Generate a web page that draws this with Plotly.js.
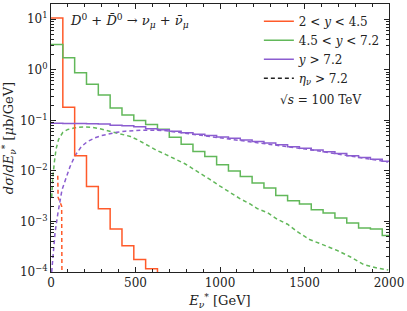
<!DOCTYPE html>
<html>
<head>
<meta charset="utf-8">
<script src="https://cdn.plot.ly/plotly-3.0.1.min.js"></script>
<style>html,body{margin:0;padding:0;background:#fff;}#chart{width:407px;height:311px;}</style>
</head>
<body>
<div id="chart"></div>
<script>
// ---- data ----
const binWidth = 70; // GeV
// solid histograms: one value per 70 GeV bin starting at 0
const orangeVals = [10.6, 0.181, 0.0199, 0.00492, 0.00179, 0.00071, 0.00033, 0.000177, 0.000116, 0.00002];
const greenVals = [3.17, 1.73, 0.873, 0.515, 0.317, 0.176, 0.128, 0.0996, 0.083, 0.0667,
  0.0464, 0.0338, 0.0241, 0.0192, 0.0132, 0.0100, 0.00776, 0.00574, 0.00458, 0.00327,
  0.00257, 0.00221, 0.00171, 0.00147, 0.00117, 0.00093, 0.000744, 0.000711, 0.000525];
const purpleVals = [0.088, 0.087, 0.087, 0.086, 0.085, 0.080, 0.078, 0.075, 0.068, 0.065,
  0.061, 0.057, 0.053, 0.050, 0.047, 0.044, 0.041, 0.038, 0.0355, 0.033,
  0.030, 0.028, 0.026, 0.024, 0.022, 0.020, 0.0185, 0.017, 0.0155];
// dashed curves (eta_nu > 7.2)
const orangeDashE = [40, 42, 63, 65];
const orangeDashV = [0.008, 0.003, 0.002, 0.00005];
const greenDashE = [4, 10, 20, 30, 45, 70, 100, 140, 190, 240, 290, 350, 410, 470, 520, 570, 620, 680, 740, 790,
  840, 890, 940, 1000, 1060, 1120, 1180, 1220, 1280, 1340, 1400, 1460, 1530, 1610, 1690, 1770, 1850, 1930, 1995];
const greenDashV = [0.003, 0.007, 0.015, 0.027, 0.042, 0.058, 0.066, 0.071, 0.074, 0.073, 0.068, 0.060, 0.054, 0.048,
  0.040, 0.032, 0.026, 0.021, 0.0165, 0.014, 0.011, 0.0088, 0.0068, 0.0050, 0.0037, 0.0028, 0.0022, 0.0018,
  0.0015, 0.0011, 0.00088, 0.00062, 0.00044, 0.00034, 0.00027, 0.0002, 0.00014, 0.00012, 0.00011];
const purpleDashE = [4, 14, 24, 40, 65, 89, 112, 142, 179, 215, 260, 300, 340, 390, 440, 490, 540, 600, 665, 735,
  805, 875, 945, 1015, 1085, 1155, 1225, 1295, 1365, 1435, 1505, 1575, 1645, 1715, 1785, 1855, 1925, 1995];
const purpleDashV = [0.0001, 0.0003, 0.0006, 0.0014, 0.0042, 0.0072, 0.012, 0.02, 0.03, 0.038, 0.045, 0.050, 0.054,
  0.058, 0.061, 0.063, 0.064, 0.064, 0.063, 0.059, 0.055, 0.052, 0.048, 0.045, 0.042, 0.039, 0.036, 0.034,
  0.032, 0.029, 0.027, 0.025, 0.023, 0.021, 0.019, 0.018, 0.0165, 0.015];

const legendNames = ['2 &lt; <i>y</i> &lt; 4.5', '4.5 &lt; <i>y</i> &lt; 7.2', '<i>y</i> &gt; 7.2', '<i>η<sub>ν</sub></i> &gt; 7.2'];
const yTickVals = [1e-4, 1e-3, 1e-2, 1e-1, 1, 10];
const yTickText = ['10<sup>−4</sup>', '10<sup>−3</sup>', '10<sup>−2</sup>', '10<sup>−1</sup>', '10<sup>0</sup>', '10<sup>1</sup>'];

// ---- styling ----
const C = {orange: '#ff5a2a', green: '#62b85a', purple: '#8b5dd0'};
const FONT = 'DejaVu Serif';

function steps(vals) {
  const x = [], y = [];
  vals.forEach((v, i) => { x.push(i * binWidth); y.push(v); });
  x.push(vals.length * binWidth); y.push(vals[vals.length - 1]);
  return {x, y};
}
function stepTrace(vals, color, name) {
  const s = steps(vals);
  return {x: s.x, y: s.y, type: 'scatter', mode: 'lines', name: name,
    line: {color: color, width: 1.5, shape: 'hv'}, hoverinfo: 'skip'};
}
function dashTrace(xs, ys, color) {
  return {x: xs, y: ys, type: 'scatter', mode: 'lines', showlegend: false,
    line: {color: color, width: 1.5, dash: '4px,3px'}, hoverinfo: 'skip'};
}

const minorY = [];
for (let e = -4; e <= 1; e++) for (let m = 2; m <= 9; m++) minorY.push(m * Math.pow(10, e));

const traces = [
  dashTrace(orangeDashE, orangeDashV, C.orange),
  dashTrace(greenDashE, greenDashV, C.green),
  dashTrace(purpleDashE, purpleDashV, C.purple),
  stepTrace(orangeVals, C.orange, legendNames[0]),
  stepTrace(greenVals, C.green, legendNames[1]),
  stepTrace(purpleVals, C.purple, legendNames[2]),
  {x: [null], y: [null], type: 'scatter', mode: 'lines', name: legendNames[3],
   line: {color: '#222', width: 1.5, dash: '4px,3px'}}
];

const axisCommon = {
  showline: true, linecolor: '#222', linewidth: 1, mirror: 'allticks',
  ticks: 'inside', ticklen: 5, tickwidth: 1, tickcolor: '#222',
  showgrid: false, zeroline: false,
  tickfont: {family: FONT, size: 12, color: '#222'}
};

const layout = {
  width: 407, height: 311,
  margin: {l: 51, r: 18, t: 4, b: 39},
  paper_bgcolor: '#fff', plot_bgcolor: '#fff',
  font: {family: FONT, color: '#222'},
  showlegend: true,
  legend: {x: 0.615, y: 0.99, xanchor: 'left', yanchor: 'top', bgcolor: 'rgba(0,0,0,0)',
    font: {family: FONT, size: 12, color: '#222'}, traceorder: 'normal'},
  xaxis: Object.assign({}, axisCommon, {
    range: [0, 2000], tickmode: 'linear', tick0: 0, dtick: 500,
    minor: {ticks: 'inside', ticklen: 3, dtick: 100, tickcolor: '#222', showgrid: false},
    title: {text: '<i>E</i><sub><i>ν</i></sub><sup>*</sup> [GeV]', font: {family: FONT, size: 13, color: '#222'}, standoff: 6}
  }),
  yaxis: Object.assign({}, axisCommon, {
    type: 'log', range: [-4, Math.log10(20)],
    tickmode: 'array', tickvals: yTickVals, ticktext: yTickText,
    minor: {ticks: 'inside', ticklen: 3, tickvals: minorY, tickcolor: '#222', showgrid: false},
    title: {text: '<i>dσ</i>/<i>dE</i><sub><i>ν</i></sub><sup>*</sup> [<i>μ</i>b/GeV]', font: {family: FONT, size: 13, color: '#222'}, standoff: 4}
  }),
  annotations: [
    {xref: 'paper', yref: 'paper', x: 0.05, y: 0.935, xanchor: 'left', yanchor: 'middle', showarrow: false,
     text: '<i>D</i><sup>0</sup> + <i>D̄</i><sup>0</sup> → <i>ν</i><sub><i>μ</i></sub> + <i>ν̄</i><sub><i>μ</i></sub>',
     font: {family: FONT, size: 13, color: '#222'}},
    {xref: 'paper', yref: 'paper', x: 0.796, y: 0.642, xanchor: 'center', yanchor: 'middle', showarrow: false,
     text: '√<i>s</i> = 100 TeV', font: {family: FONT, size: 12, color: '#222'}}
  ]
};

Plotly.newPlot('chart', traces, layout, {staticPlot: true, displayModeBar: false});
</script>
</body>
</html>
